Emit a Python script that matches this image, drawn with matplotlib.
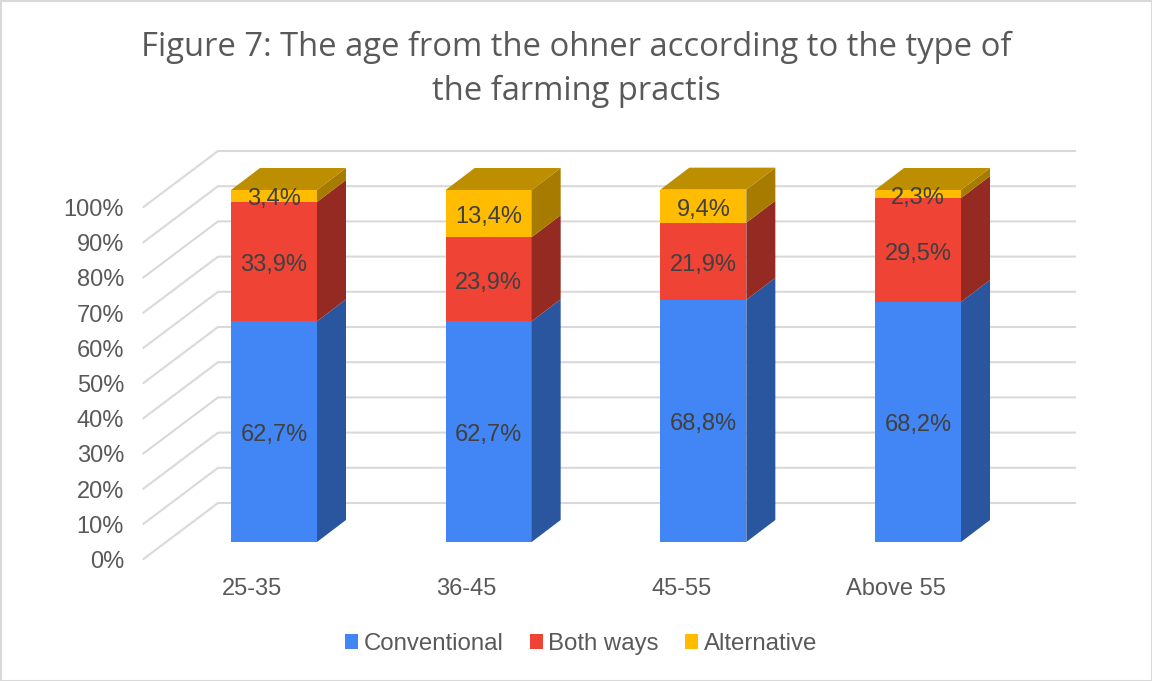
import matplotlib
matplotlib.use("Agg")
import matplotlib.pyplot as plt
from matplotlib.patches import Polygon, Patch

categories = ["25-35", "36-45", "45-55", "Above 55"]
conventional = [62.7, 62.7, 68.8, 68.2]
both_ways = [33.9, 23.9, 21.9, 29.5]
alternative = [3.4, 13.4, 9.4, 2.3]
series_names = ["Conventional", "Both ways", "Alternative"]
value_ticks = [0, 10, 20, 30, 40, 50, 60, 70, 80, 90, 100]

front = ["#4285F4", "#EE4335", "#FFBC00"]
side = ["#2A569F", "#952A22", "#A67B00"]
top = ["#2F5FB0", "#A52E25", "#BD8E00"]
GRID = "#D9D9D9"
TICK = "#595959"
LABEL = "#404040"
SANS = "Liberation Sans"

W, H = 1152, 681
fig = plt.figure(figsize=(W / 100, H / 100), dpi=100, facecolor="white")
ax = fig.add_axes([0, 0, 1, 1])

# Scale: 214.67 px per category, 3.52 px per percent; first bar centre at px 274, value 0 at px 542
PX_X = 214.67
PX_Y = 3.52
ax.set_xlim(-274 / PX_X, (W - 274) / PX_X)
ax.set_ylim(-(H - 542) / PX_Y, 542 / PX_Y)
ax.axis("off")

dx = lambda px: px / PX_X
dy = lambda px: px / PX_Y

# Bar geometry
half = dx(43)
depth_x, depth_y = dx(29), dy(22)

# Wall geometry
wall_left = dx(218 - 274)
wall_right = dx(1075 - 274)
corner_left = dx(143.5 - 274)
wall_y = dy(39)
corner_y = dy(-17)

for v in value_ticks:
    ax.plot([corner_left, wall_left, wall_right],
            [v + corner_y, v + wall_y, v + wall_y],
            color=GRID, lw=1.5, zorder=1, solid_joinstyle="miter")
    ax.text(dx(124 - 274), v + corner_y + dy(-3), f"{v}%", ha="right", va="center",
            fontsize=17, color=TICK, family=SANS, zorder=5)

stacks = [conventional, both_ways, alternative]
for i, cat in enumerate(categories):
    base = 0.0
    for s, values in enumerate(stacks):
        val = values[i]
        t = base + val
        l, r = i - half, i + half
        ax.bar(i, val, bottom=base, width=2 * half, color=front[s], lw=0, zorder=3)
        ax.add_patch(Polygon([(r, base), (r + depth_x, base + depth_y),
                              (r + depth_x, t + depth_y), (r, t)],
                             closed=True, fc=side[s], ec="none", zorder=3))
        if s == len(stacks) - 1:
            ax.add_patch(Polygon([(l, t), (l + depth_x, t + depth_y),
                                  (r + depth_x, t + depth_y), (r, t)],
                                 closed=True, fc=top[s], ec="none", zorder=3))
        ax.text(i, base + val / 2 + dy(-3.5), f"{val:.1f}%".replace(".", ","),
                ha="center", va="center", fontsize=17, color=LABEL, family=SANS, zorder=6)
        base = t
    ax.text(i - dx(22), dy(-47), cat, ha="center", va="center",
            fontsize=17, color=TICK, family=SANS, zorder=5)

fig.text(576 / W, 1 - 69 / H,
         "Figure 7: The age from the ohner according to the type of\nthe farming practis",
         ha="center", va="center", fontsize=23.6, color=TICK, family="Open Sans",
         linespacing=1.42)

handles = [Patch(fc=c, ec="none") for c in front]
leg = fig.legend(handles, series_names, loc="center", bbox_to_anchor=(581 / W, 1 - 644 / H),
                 ncol=3, frameon=False, handlelength=0.55, handleheight=0.55,
                 handletextpad=0.22, columnspacing=1.1, borderpad=0,
                 prop={"family": SANS, "size": 17.3})
for t in leg.get_texts():
    t.set_color(TICK)

fig.add_artist(plt.Rectangle((0.5 / W, 0.5 / H), 1 - 1 / W, 1 - 1 / H,
                             transform=fig.transFigure, fc="none", ec=GRID, lw=1.5))

fig.savefig("out.png", dpi=100, facecolor="white")
